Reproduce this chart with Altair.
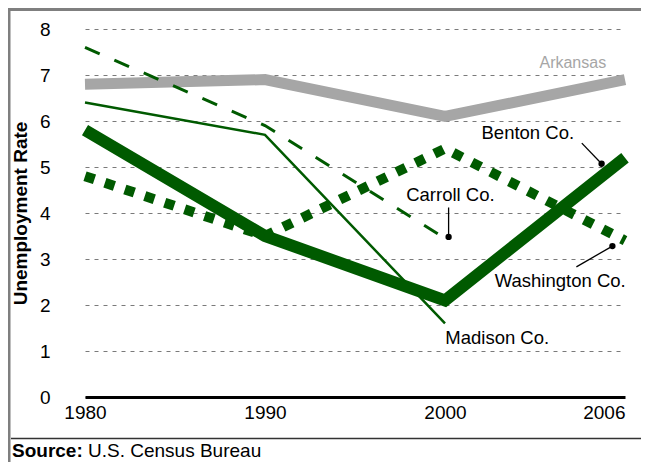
import altair as alt
import pandas as pd

years = ["1980", "1990", "2000", "2006"]
arkansas = [6.8, 6.9, 6.1, 6.9]
benton = [5.8, 3.5, 2.1, 5.2]
washington = [4.8, 3.5, 5.4, 3.4]
carroll = [7.6, 5.9, 3.45]
madison = [6.4, 5.7, 1.6]

# annotation positions (x in year-index units, y in rate units)
label_names = ["Arkansas", "Benton Co.", "Carroll Co.", "Washington Co.", "Madison Co."]
label_x = [2.71, 2.46, 2.03, 2.64, 2.29]
label_y = [7.27, 5.74, 4.39, 2.52, 1.28]
label_size = [16, 18.5, 18.5, 18.5, 18.5]
leader_x = [2.76, 2.02, 2.73]
leader_y = [5.52, 4.12, 2.83]
leader_x2 = [2.87, 2.02, 2.93]
leader_y2 = [5.07, 3.48, 3.28]

GREEN = "#005a00"
GRAY = "#a6a6a6"
FONT = "Liberation Sans"
FS = 19

label_expr = "[" + ",".join("'%s'" % y for y in years) + "][datum.value]"

def xenc(field="idx"):
    return alt.X(f"{field}:Q", scale=alt.Scale(domain=[0, len(years) - 1], nice=False, zero=False),
                 axis=alt.Axis(values=list(range(len(years))), labelExpr=label_expr, title=None,
                               grid=False, ticks=False, domain=True, domainColor="black",
                               domainWidth=3, labelFont=FONT, labelFontSize=FS, labelColor="black",
                               labelPadding=6,
                               labelAlign={"condition": {"test": f"datum.value == {len(years)-1}", "value": "right"},
                                           "value": "center"}))

def yenc(field="value"):
    return alt.Y(f"{field}:Q", scale=alt.Scale(domain=[0, 8], nice=False),
                 axis=alt.Axis(values=list(range(0, 9)), title="Unemployment Rate", grid=True,
                               gridDash=[4, 5], gridColor="#7a7a7a", gridWidth=1, ticks=False,
                               domain=False, labelFont=FONT, labelFontSize=FS, labelColor="black",
                               labelPadding=35, titleFont=FONT, titleFontSize=FS, titleFontWeight="bold",
                               titleColor="black", titleAngle=-90, titleX=-65, titleY=184,
                               titleAlign="center", titleBaseline="middle"))

def series_df(vals):
    return pd.DataFrame({"idx": list(range(len(vals))), "value": vals})

def line(vals, color, width, dash=None):
    kw = dict(color=color, strokeWidth=width, strokeCap="butt", strokeJoin="miter")
    if dash:
        kw["strokeDash"] = dash
    return alt.Chart(series_df(vals)).mark_line(**kw).encode(x=xenc(), y=yenc())

ark = line(arkansas, GRAY, 11)
mad = line(madison, GREEN, 2.5)
car = line(carroll, GREEN, 3, [16, 16])
ben = line(benton, GREEN, 12)
was = line(washington, GREEN, 10, [10, 11])

lab_df = pd.DataFrame({"idx": label_x, "value": label_y, "name": label_names,
                       "col": [GRAY, "black", "black", "black", "black"], "fs": label_size})
labels = alt.Chart(lab_df).mark_text(font=FONT, align="center", baseline="middle").encode(
    x=xenc(), y=yenc(), text="name:N", color=alt.Color("col:N", scale=None),
    size=alt.Size("fs:Q", scale=None))

lead_df = pd.DataFrame({"idx": leader_x, "value": leader_y, "idx2": leader_x2, "value2": leader_y2})
leaders = alt.Chart(lead_df).mark_rule(color="black", strokeWidth=1.3).encode(
    x=xenc(), y=yenc(), x2="idx2:Q", y2="value2:Q")
dots = alt.Chart(lead_df).mark_circle(color="black", opacity=1, size=40).encode(
    x=xenc("idx2"), y=yenc("value2"))

one = pd.DataFrame({"a": [0]})
frame_left = alt.Chart(one).mark_rule(color="#7f7f7f", strokeWidth=3).encode(
    x=alt.value(-76), y=alt.value(-21), y2=alt.value(433))
frame_top = alt.Chart(one).mark_rule(color="#7f7f7f", strokeWidth=3).encode(
    x=alt.value(-77), x2=alt.value(556), y=alt.value(-19.5))
sep = alt.Chart(one).mark_rule(color="#333333", strokeWidth=1.5).encode(
    x=alt.value(-74), x2=alt.value(556), y=alt.value(409.5))
src_b = alt.Chart(one).mark_text(font=FONT, fontSize=FS, fontWeight="bold", align="left",
                                 baseline="alphabetic", color="black").encode(
    x=alt.value(-73), y=alt.value(428), text=alt.value("Source:"))
src_r = alt.Chart(one).mark_text(font=FONT, fontSize=FS, align="left",
                                 baseline="alphabetic", color="black").encode(
    x=alt.value(3), y=alt.value(428), text=alt.value("U.S. Census Bureau"))

chart = alt.layer(ark, mad, car, ben, was, leaders, dots, labels,
                  frame_left, frame_top, sep, src_b, src_r).properties(
    width=540, height=368,
    padding={"left": 77, "top": 21, "right": 16, "bottom": 65},
    autosize=alt.AutoSizeParams(type="none"),
    background="white",
).configure_view(stroke=None)

chart.save("out.html", embed_options={"renderer": "svg", "actions": False})
